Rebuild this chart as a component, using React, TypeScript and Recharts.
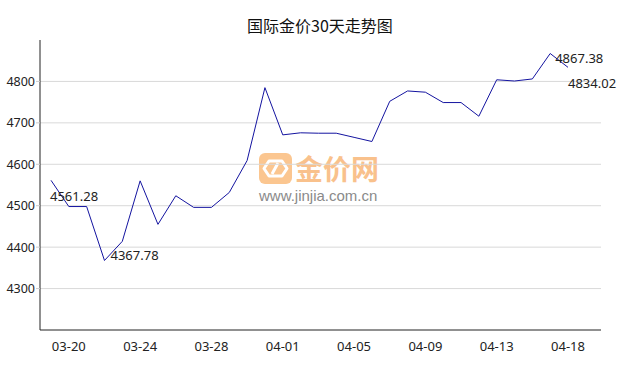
import { useEffect } from 'react';
import {
  LineChart,
  Line,
  XAxis,
  YAxis,
  CartesianGrid,
  LabelList,
} from 'recharts';

const dates = [
  '03-19', '03-20', '03-21', '03-22', '03-23', '03-24', '03-25', '03-26', '03-27', '03-28',
  '03-29', '03-30', '03-31', '04-01', '04-02', '04-03', '04-04', '04-05', '04-06', '04-07',
  '04-08', '04-09', '04-10', '04-11', '04-12', '04-13', '04-14', '04-15', '04-16', '04-18',
];
const prices = [
  4561.28, 4498, 4498, 4367.78, 4414, 4560, 4455, 4524, 4496, 4496,
  4532, 4609, 4785, 4671, 4676, 4675, 4675, 4665, 4655, 4752,
  4777, 4774, 4749, 4749, 4716, 4804, 4801, 4806, 4867.38, 4834.02,
];
const tickDates = ['03-20', '03-24', '03-28', '04-01', '04-05', '04-09', '04-13', '04-18'];
const yTicks = [4300, 4400, 4500, 4600, 4700, 4800];

const data = dates.map((d, i) => ({ date: d, price: prices[i] }));

// 标注：首、末、最低、最高
const minIdx = prices.indexOf(Math.min(...prices));
const maxIdx = prices.indexOf(Math.max(...prices));
const lastIdx = prices.length - 1;
const labelOffset = {
  [0]: { dx: -1, dy: 16 },
  [minIdx]: { dx: 6, dy: -5 },
  [maxIdx]: { dx: 5, dy: 5 },
  [lastIdx]: { dx: 0, dy: 16 },
};

const NUM_FONT = '"Noto Sans", "DejaVu Sans", sans-serif';

const renderLabel = (props) => {
  const { x, y, value, index } = props;
  const off = labelOffset[index];
  if (!off) return null;
  return (
    <text
      x={x + off.dx}
      y={y + off.dy}
      dy="0.35em"
      fontSize={13}
      fontFamily={NUM_FONT}
      fill="#222"
      textAnchor="start"
    >
      {Number(value).toFixed(2)}
    </text>
  );
};

const Watermark = () => (
  <div style={{ position: 'absolute', left: 259, top: 153, pointerEvents: 'none' }}>
    <div style={{ display: 'flex', alignItems: 'center' }}>
      <svg width={33} height={31} viewBox="0 0 33 31">
        <rect x={0} y={0} width={33} height={31} rx={6} fill="#FBC690" />
        <path
          d="M10 8 L23 8 L28 15.5 L23 23 L10 23 L5 15.5 Z"
          fill="none"
          stroke="#fff"
          strokeWidth={3}
          strokeLinejoin="round"
        />
        <path d="M19 10 L13 21" stroke="#fff" strokeWidth={3} />
      </svg>
      <span
        style={{
          marginLeft: 3,
          fontFamily: '"Noto Sans CJK SC", sans-serif',
          fontWeight: 700,
          fontSize: 28,
          lineHeight: '31px',
          color: '#F9C18C',
        }}
      >
        金价网
      </span>
    </div>
    <div
      style={{
        marginTop: 3,
        fontFamily: '"Liberation Sans", Arial, sans-serif',
        fontSize: 15,
        lineHeight: '18px',
        color: '#8a8a8a',
      }}
    >
      www.jinjia.com.cn
    </div>
  </div>
);

export default function App() {
  useEffect(() => {
    document.body.style.margin = '0';
  }, []);

  return (
    <div style={{ position: 'relative', width: 638, height: 370, background: '#fff' }}>
      <Watermark />
      <div
        style={{
          position: 'absolute',
          top: 17,
          left: 0,
          width: 640,
          textAlign: 'center',
          fontFamily: '"Noto Sans CJK SC", sans-serif',
          fontSize: 16,
          lineHeight: '17px',
          color: '#111',
        }}
      >
        国际金价30天走势图
      </div>
      <div style={{ position: 'absolute', left: 0, top: 0 }}>
        <LineChart
          width={638}
          height={370}
          data={data}
          margin={{ top: 40, right: 37, bottom: 10, left: 0 }}
        >
          <CartesianGrid
            horizontal
            vertical={false}
            horizontalValues={yTicks}
            stroke="#d9d9d9"
          />
          <XAxis
            dataKey="date"
            ticks={tickDates}
            interval={0}
            padding={{ left: 11, right: 33 }}
            height={30}
            tickLine={false}
            tickSize={6}
            tickMargin={6}
            axisLine={{ stroke: '#222' }}
            tick={{ fontSize: 13, fontFamily: NUM_FONT, fill: '#222' }}
          />
          <YAxis
            domain={[4200, 4900]}
            ticks={yTicks}
            width={40}
            tickSize={4}
            tickMargin={1}
            tickLine={{ stroke: '#ccc' }}
            axisLine={{ stroke: '#222' }}
            tick={{ fontSize: 12.5, fontFamily: NUM_FONT, fill: '#222' }}
          />
          <Line
            type="linear"
            dataKey="price"
            stroke="#1414a0"
            strokeWidth={1}
            dot={false}
            activeDot={false}
            isAnimationActive={false}
          >
            <LabelList dataKey="price" content={renderLabel} />
          </Line>
        </LineChart>
      </div>
    </div>
  );
}
